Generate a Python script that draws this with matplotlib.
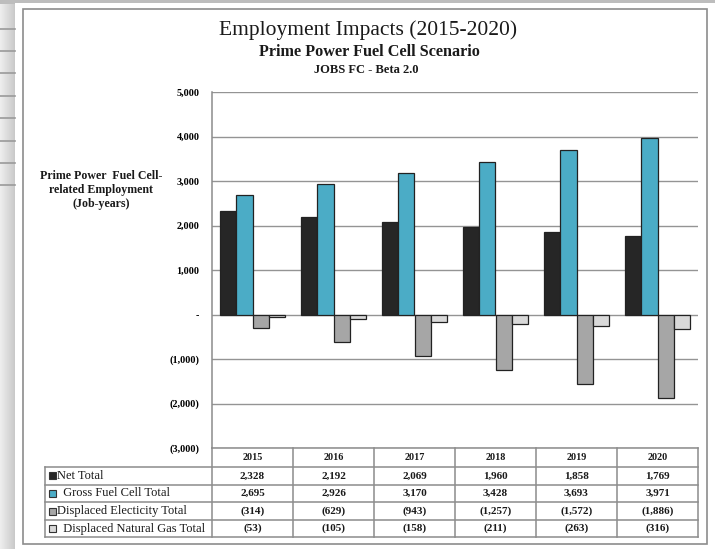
import matplotlib
matplotlib.use("Agg")
import matplotlib.pyplot as plt
from matplotlib.patches import Rectangle
from matplotlib.ticker import FuncFormatter, MultipleLocator
import numpy as np

years = ["2015", "2016", "2017", "2018", "2019", "2020"]
series_names = ["Net Total", "  Gross Fuel Cell Total", "Displaced Electicity Total", "  Displaced Natural Gas Total"]
net_total = [2328, 2192, 2069, 1960, 1858, 1769]
gross_fc = [2695, 2926, 3170, 3428, 3693, 3971]
displaced_elec = [-314, -629, -943, -1257, -1572, -1886]
displaced_gas = [-53, -105, -158, -211, -263, -316]
colors = ["#262626", "#4BACC6", "#A6A6A6", "#D9D9D9"]

title = "Employment Impacts (2015-2020)"
subtitle = "Prime Power Fuel Cell Scenario"
subtitle2 = "JOBS FC - Beta 2.0"
ylabel = "Prime Power  Fuel Cell-\nrelated Employment\n(Job-years)"

SERIF = ["Liberation Serif", "DejaVu Serif"]
plt.rcParams["font.family"] = SERIF

W, H = 715, 549
fig = plt.figure(figsize=(W / 100, H / 100), dpi=100)
fig.patch.set_facecolor("#cfcfcf")

# background / frame layer in pixel coordinates
bg = fig.add_axes([0, 0, 1, 1], zorder=0)
bg.set_xlim(0, W)
bg.set_ylim(H, 0)
bg.axis("off")
# left spreadsheet strip
for i, c in enumerate(np.linspace(0.93, 0.78, 16)):
    bg.add_patch(Rectangle((i, 0), 1, H, color=(c, c, c), lw=0))
for yy in [29, 51, 73, 96, 118, 141, 163, 185]:
    bg.plot([0, 15], [yy, yy], color="#9a9a9a", lw=1.2)
bg.add_patch(Rectangle((0, 0), W, 4, color="#bdbdbd", lw=0))
bg.add_patch(Rectangle((15, 3), W - 15, H - 3, facecolor="white", edgecolor="none"))
bg.add_patch(Rectangle((23, 9), 684, 535, facecolor="white", edgecolor="#8c8c8c", lw=1.2))

# titles
bg.text(368, 30, title, ha="center", va="center", fontsize=15.5, color="#1a1a1a")
bg.text(369, 52, subtitle, ha="center", va="center", fontsize=11.7, fontweight="bold", color="#1a1a1a")
bg.text(366, 70, subtitle2, ha="center", va="center", fontsize=9, fontweight="bold", color="#1a1a1a")
bg.text(101, 190, ylabel, ha="center", va="center", fontsize=8.6, fontweight="bold",
        color="#1a1a1a", linespacing=1.25)

# main chart
L, R, T, B = 212, 698, 92, 448
ax = fig.add_axes([L / W, 1 - B / H, (R - L) / W, (B - T) / H], zorder=2)
ax.set_facecolor("none")
x = np.arange(len(years))
bw = 0.2
data = [net_total, gross_fc, displaced_elec, displaced_gas]
for k, (vals, col) in enumerate(zip(data, colors)):
    ax.bar(x + (k - 1.5) * bw, vals, width=bw, color=col, edgecolor="#222222", linewidth=0.9, zorder=3)
ax.set_xlim(-0.5, len(years) - 0.5)
ax.set_ylim(-3000, 5000)
ax.yaxis.set_major_locator(MultipleLocator(1000))


def fmt(v, pos=None):
    v = int(round(v))
    if v == 0:
        return "-"
    if v < 0:
        return "({:,})".format(-v)
    return "{:,}".format(v)


ax.yaxis.set_major_formatter(FuncFormatter(fmt))
ax.grid(axis="y", color="#949494", lw=1.0, zorder=1)
ax.tick_params(axis="y", length=0, pad=9, labelsize=7.3)
for lab in ax.get_yticklabels():
    lab.set_fontweight("bold")
ax.set_xticks([])
for s in ["top", "right", "bottom"]:
    ax.spines[s].set_visible(False)
ax.spines["left"].set_color("#8c8c8c")
ax.spines["left"].set_linewidth(1.1)

# data table (pixel coordinates)
lc = "#8c8c8c"
colw = (R - L) / len(years)
hdr_top, body_top = B, 467
rowh = 17.6
body_bot = body_top + 4 * rowh
TL = 45
bg.plot([L, R], [hdr_top, hdr_top], color=lc, lw=1.1, zorder=5)
bg.plot([TL, R], [body_top, body_top], color=lc, lw=1.1, zorder=5)
for r in range(1, 5):
    bg.plot([TL, R], [body_top + r * rowh] * 2, color=lc, lw=1.1, zorder=5)
bg.plot([TL, TL], [body_top, body_bot], color=lc, lw=1.1, zorder=5)
for c in range(len(years) + 1):
    bg.plot([L + c * colw] * 2, [hdr_top, body_bot], color=lc, lw=1.1, zorder=5)
for c, yr in enumerate(years):
    bg.text(L + (c + 0.5) * colw, (hdr_top + body_top) / 2 + 0.5, yr, ha="center", va="center",
            fontsize=7.3, fontweight="bold", color="#1a1a1a", zorder=6)
for r, (name, vals, col) in enumerate(zip(series_names, data, colors)):
    yc = body_top + (r + 0.5) * rowh
    bg.add_patch(Rectangle((49, yc - 3.5), 7, 7, facecolor=col, edgecolor="#333333", lw=0.8, zorder=6))
    bg.text(57, yc, name, ha="left", va="center", fontsize=9, color="#1a1a1a", zorder=6)
    for c, v in enumerate(vals):
        bg.text(L + (c + 0.5) * colw, yc, fmt(v), ha="center", va="center",
                fontsize=8, fontweight="bold", color="#1a1a1a", zorder=6)

fig.savefig("out.png", dpi=100, facecolor=fig.get_facecolor())
